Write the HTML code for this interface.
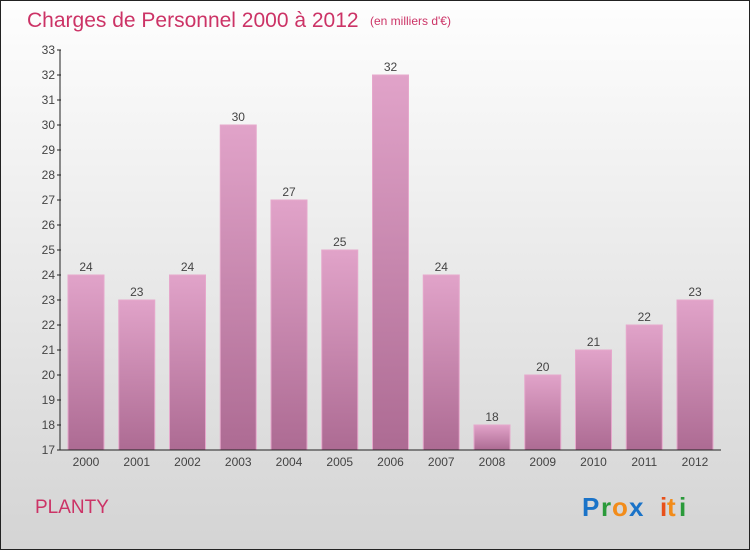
<!DOCTYPE html>
<html><head><meta charset="utf-8"><style>
body{margin:0;width:750px;height:550px;overflow:hidden}
#c{position:absolute;left:0;top:0;width:748px;height:548px;border:1px solid #222;background:linear-gradient(#fefefe,#d4d4d4)}
text{font-family:"Liberation Sans",sans-serif}
</style></head><body>
<div id="c">
<svg id="s" width="750" height="550" style="position:absolute;left:-1px;top:-1px">
<defs><linearGradient id="g" x1="0" y1="0" x2="0" y2="1"><stop offset="0" stop-color="#e1a3c9"/><stop offset="1" stop-color="#ad6b93"/></linearGradient></defs>
<text x="27" y="27" font-size="21" fill="#cc3366">Charges de Personnel 2000 à 2012</text>
<text x="370" y="25" font-size="12" fill="#cc3366">(en milliers d'€)</text>
<text x="35" y="513" font-size="19" fill="#cc3366">PLANTY</text>
<g font-size="26" font-weight="bold">
<text x="582" y="516" fill="#1a73c8">P</text><text x="601" y="516" fill="#2a9a3a">r</text><text x="612" y="516" fill="#f28c1a">o</text><text x="629" y="516" fill="#1a73c8">x</text><text x="660" y="516" fill="#e8501a">i</text><text x="667" y="516" fill="#f28c1a">t</text><text x="679" y="516" fill="#2a9a3a">i</text>
</g>
<g id="plot"></g>
</svg></div>
<script>
const categories=["2000","2001","2002","2003","2004","2005","2006","2007","2008","2009","2010","2011","2012"];
const values=[24,23,24,30,27,25,32,24,18,20,21,22,23];
const yTicks=[17,18,19,20,21,22,23,24,25,26,27,28,29,30,31,32,33];
const ns="http://www.w3.org/2000/svg",g=document.getElementById('plot');
const y=v=>450-(v-17)*25, x=i=>86+i*50.75;
function mk(t,a,p){const e=document.createElementNS(ns,t);for(const k in a)e.setAttribute(k,a[k]);(p||g).appendChild(e);return e;}
categories.forEach((c,i)=>{
 const r=mk('rect',{x:x(i)-18,y:y(values[i]),width:36,height:450-y(values[i]),fill:'url(#g)',stroke:'#e6a8cc','stroke-width':1});
 
 
 const t=mk('text',{x:x(i),y:y(values[i])-4,'text-anchor':'middle','font-size':12,fill:'#444'});t.textContent=values[i];
 
 
 const l=mk('text',{x:x(i),y:466,'text-anchor':'middle','font-size':12,fill:'#444'});l.textContent=c;
 
 
});
yTicks.forEach(v=>{
 mk('line',{x1:57,x2:61,y1:y(v),y2:y(v),stroke:'#222'});
 const t=mk('text',{x:55,y:y(v)+4,'text-anchor':'end','font-size':12,fill:'#444'});t.textContent=v;
 
 
});
const ya=mk('line',{x1:60,x2:60,y1:y(33),y2:450,stroke:'#222'});


const xa=mk('line',{x1:60,x2:721,y1:450,y2:450,stroke:'#222'});


</script>
</body></html>
